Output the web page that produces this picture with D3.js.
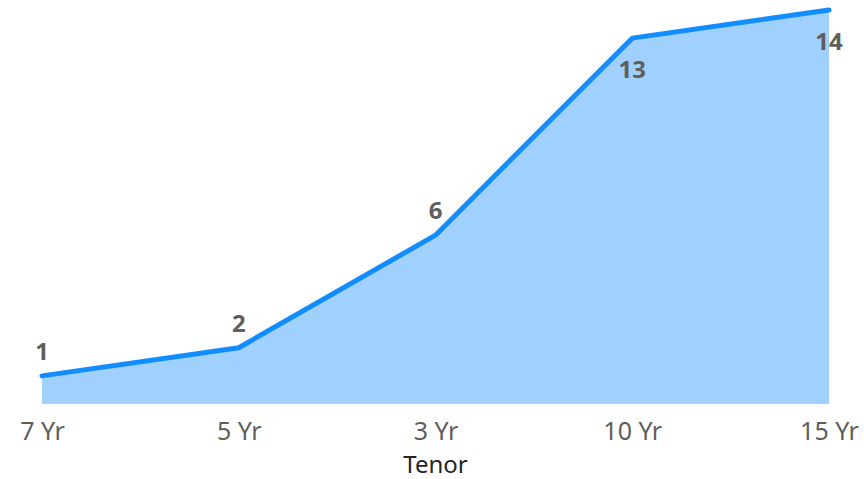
<!DOCTYPE html>
<html>
<head>
<meta charset="utf-8">
<script src="https://cdn.jsdelivr.net/npm/d3@7"></script>
<style>
  body { margin: 0; background: #fff; }
  svg { display: block; font-family: "Noto Sans", "Open Sans", sans-serif; }
</style>
</head>
<body>
<div id="chart"></div>
<script>
// categories and values
var tenors = ["7 Yr", "5 Yr", "3 Yr", "10 Yr", "15 Yr"];
var counts = [1, 2, 6, 13, 14];
// where the label sits relative to the point
var labelBelow = [false, false, false, true, true];

var width = 864, height = 479;

var svg = d3.select("#chart").append("svg")
    .attr("width", width)
    .attr("height", height);

// point scale across the plot
var x = d3.scalePoint()
    .domain(tenors)
    .range([42, 829]);

var y = d3.scaleLinear()
    .domain([0, 14])
    .range([404, 10]);

var data = tenors.map(function(t, i) {
    return { tenor: t, count: counts[i], below: labelBelow[i] };
});

// area under the line
var area = d3.area()
    .x(function(d) { return x(d.tenor); })
    .y0(y(0))
    .y1(function(d) { return y(d.count); });

svg.append("path")
    .datum(data)
    .attr("d", area)
    .attr("fill", "#9FD0FE");

var line = d3.line()
    .x(function(d) { return x(d.tenor); })
    .y(function(d) { return y(d.count); });

svg.append("path")
    .datum(data)
    .attr("d", line)
    .attr("fill", "none")
    .attr("stroke", "#118DFF")
    .attr("stroke-width", 5)
    .attr("stroke-linejoin", "round")
    .attr("stroke-linecap", "round");

// data labels
svg.selectAll(".lbl")
    .data(data)
    .enter()
    .append("text")
    .attr("class", "lbl")
    .attr("x", function(d) { return x(d.tenor); })
    .attr("y", function(d) { return d.below ? y(d.count) + 40 : y(d.count) - 16; })
    .attr("text-anchor", "middle")
    .attr("font-size", 24)
    .attr("font-weight", "bold")
    .attr("fill", "#605E5C")
    .text(function(d) { return d.count; });

// x axis, no line, no ticks
var xAxis = svg.append("g")
    .attr("transform", "translate(0," + 404 + ")")
    .call(d3.axisBottom(x).tickSize(0).tickPadding(0));

xAxis.select(".domain").remove();
xAxis.selectAll("text")
    .attr("dy", null)
    .attr("y", 36)
    .attr("font-family", "\"Noto Sans\", \"Open Sans\", sans-serif")
    .attr("font-size", 25)
    .attr("fill", "#605E5C");

svg.append("text")
    .attr("x", x("3 Yr"))
    .attr("y", 473)
    .attr("text-anchor", "middle")
    .attr("font-size", 24)
    .attr("fill", "#252423")
    .text("Tenor");
</script>
</body>
</html>
